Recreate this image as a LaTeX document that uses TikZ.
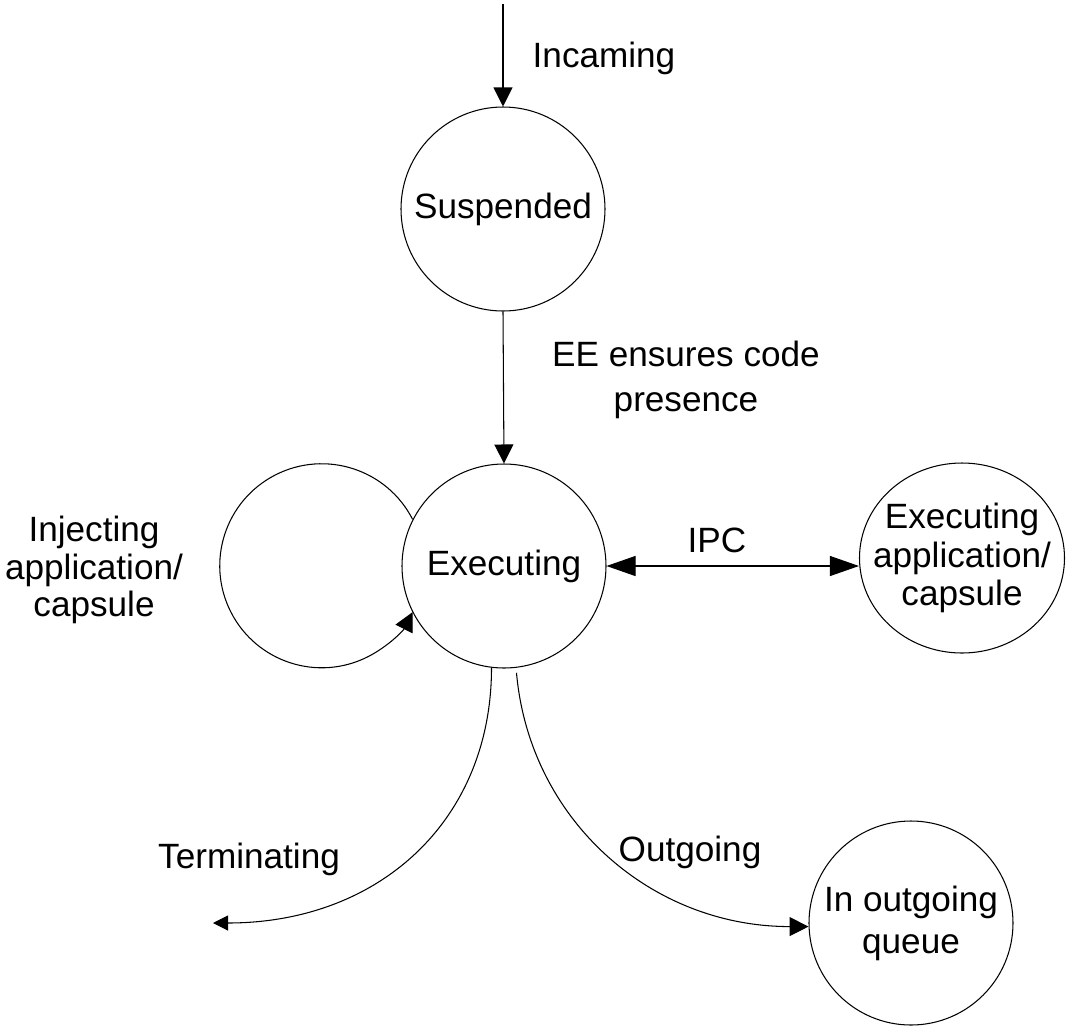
\documentclass[tikz,border=0pt]{standalone}
\usepackage{fontspec}
\setmainfont{Liberation Sans}
\usetikzlibrary{arrows.meta, shapes.geometric}

\begin{document}
\begin{tikzpicture}[
    state/.style={draw, circle, line width=0.6pt, minimum size=4.08cm, inner sep=0pt, align=center, font=\fontsize{20}{22}\selectfont},
    arrow/.style={-{Triangle[length=0.38cm, width=0.38cm]}, line width=0.6pt},
    doublearrow/.style={{Triangle[length=0.58cm, width=0.4cm]}-{Triangle[length=0.58cm, width=0.4cm]}, line width=0.6pt},
    lbl/.style={font=\fontsize{20}{22}\selectfont, align=center, inner sep=0pt}
]

    % frame of the page
    \useasboundingbox (0,0) rectangle (21.32,-20.54);

    % ================= STATES =================
    \node[state] (Suspended) at (10.06, -4.18) {Suspended};
    \node[state] (Executing) at (10.08, -11.32) {Executing};
    \node[state, ellipse, minimum width=4.1cm, minimum height=3.8cm, inner xsep=-0.4cm, inner ysep=0pt, font=\fontsize{20}{22}\selectfont] (ExecApp) at (19.24, -11.16) {Executing\\application/\\capsule};
    \node[state, font=\fontsize{20}{24}\selectfont] (OutQueue) at (18.22, -18.46) {In outgoing\\queue};

    % free ends of the open connectors
    \coordinate (InTop) at (10.06, -0.08);
    \coordinate (TermEnd) at (4.26, -18.46);

    % ================= CONNECTIONS =================

    % incoming capsule
    \draw[arrow] (InTop) -- (Suspended.north);
    \node[lbl, anchor=base] (IncLbl) at (12.08, -1.34) {Incaming};

    % code loaded
    \draw[arrow] (Suspended.south) -- (Executing.north);
    \node[lbl, font=\fontsize{20}{25.6}\selectfont] (EELbl) at (13.72, -7.60) {EE ensures code\\presence};

    % injection loop
    \draw[arrow] (Executing.153) arc[start angle=27, end angle=333, radius=2.04cm];
    \node[lbl, font=\fontsize{20}{21.5}\selectfont] (InjLbl) at (1.88, -11.40) {Injecting\\application/\\capsule};

    % inter process communication
    \draw[doublearrow] (Executing.east) -- (Executing.east -| ExecApp.west);
    \node[lbl, anchor=base] (IPCLbl) at (14.34, -11.04) {IPC};

    % leaving the execution state
    \draw[-{Triangle[length=0.3cm, width=0.3cm]}, line width=0.6pt] (Executing.263) .. controls +(0,-3.04) and +(3.34,0) .. (TermEnd);
    \node[lbl, anchor=base] (TermLbl) at (4.98, -17.36) {Terminating};

    \draw[arrow] ([yshift=-0.1cm]Executing.277) .. controls +(0.26,-2.94) and +(-3.16,0) .. (OutQueue.182);
    \node[lbl, anchor=base] (OutLbl) at (13.80, -17.22) {Outgoing};

\end{tikzpicture}
\end{document}
